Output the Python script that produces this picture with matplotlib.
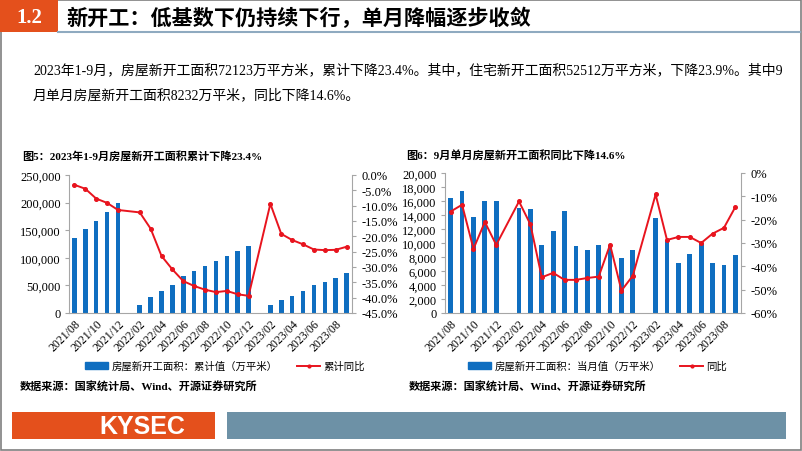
import numpy as np
import matplotlib
matplotlib.use("Agg")
import matplotlib.pyplot as plt
from matplotlib.patches import Rectangle
from matplotlib.lines import Line2D
from matplotlib.patches import Patch

# --- data -------------------------------------------------------------------

months = [
    "2021/08", "2021/09", "2021/10", "2021/11", "2021/12", "2022/01",
    "2022/02", "2022/03", "2022/04", "2022/05", "2022/06", "2022/07",
    "2022/08", "2022/09", "2022/10", "2022/11", "2022/12", "2023/01",
    "2023/02", "2023/03", "2023/04", "2023/05", "2023/06", "2023/07",
    "2023/08", "2023/09",
]
nan = np.nan

# fig 5: cumulative new starts (10k m2) and cumulative yoy (%)
cum_area = [135502, 152944, 166736, 182820, 198895, nan,
            15250, 29638, 39739, 51628, 66423, 76091,
            85062, 94767, 103722, 111632, 120587, nan,
            13658, 24121, 31614, 39321, 49880, 56969,
            63891, 72123]
cum_yoy = [-3.2, -4.5, -7.7, -9.1, -11.4, nan,
           -12.2, -17.5, -26.4, -30.8, -34.6, -36.2,
           -37.4, -38.2, -37.8, -38.9, -39.4, nan,
           -9.4, -19.2, -21.2, -22.6, -24.3, -24.5,
           -24.4, -23.4]

# fig 6: monthly new starts (10k m2) and monthly yoy (%)
mon_area = [16500, 17400, 13750, 16050, 16050, nan,
            14950, 14800, 9750, 11700, 14600, 9550,
            9050, 9650, 9700, 7900, 8950, nan,
            13600, 10450, 7100, 8500, 9950, 7100,
            6900, 8232]
mon_yoy = [-16.5, -13.6, -32.5, -21.0, -30.8, nan,
           -12.2, -22.0, -44.7, -42.8, -45.8, -45.8,
           -45.0, -44.4, -30.7, -50.4, -44.0, nan,
           -9.2, -28.7, -27.4, -27.4, -30.0, -26.0,
           -23.5, -14.6]

# --- style ------------------------------------------------------------------

W, H = 802, 452
SERIF = ["Liberation Serif", "Noto Sans CJK SC"]
CJK = ["Noto Sans CJK SC", "Liberation Serif"]
BLUE = "#0F6EC0"
RED = "#E8141E"
ORANGE = "#E4501C"
GRAYBLUE = "#6D91A6"
SPINE = "#A6A6A6"

plt.rcParams["font.family"] = SERIF


def fx(x):
    return x / W


def fy(y):
    return 1 - y / H


def rect(fig, x0, y0, x1, y1, **kw):
    fig.add_artist(Rectangle((fx(x0), fy(y1)), fx(x1) - fx(x0), fy(y0) - fy(y1),
                             transform=fig.transFigure, **kw))


def draw_panel(fig, box, bars, line, ylim, yticks, ytick_fmt, rlim, rticks, rtick_fmt,
               bar_label, line_label, legend_x):
    left, top, right, bottom = box
    ax = fig.add_axes([fx(left), fy(bottom), fx(right) - fx(left), fy(top) - fy(bottom)])
    x = np.arange(len(months))
    b = np.array(bars, dtype=float)
    ok = ~np.isnan(b)
    ax.bar(x[ok], b[ok], width=0.42, color=BLUE, zorder=2)
    ax.set_xlim(-0.5, len(months) - 0.5)
    ax.set_ylim(*ylim)
    ax.set_yticks(yticks)
    ax.set_yticklabels([ytick_fmt(v) for v in yticks], fontsize=9)
    ax.set_xticks(x[::2])
    ax.set_xticklabels(months[::2], rotation=45, ha="right", rotation_mode="anchor",
                       fontsize=8.5)
    ax.tick_params(axis="x", length=0, pad=3)
    ax.tick_params(axis="y", length=3, color=SPINE, pad=3)
    for s in ("top", "right"):
        ax.spines[s].set_visible(False)
    for s in ("left", "bottom"):
        ax.spines[s].set_color(SPINE)

    axr = ax.twinx()
    l = np.array(line, dtype=float)
    ok = ~np.isnan(l)
    axr.plot(x[ok], l[ok], color=RED, lw=1.4, marker="o", ms=2.6, zorder=3)
    axr.set_ylim(*rlim)
    axr.set_yticks(rticks)
    axr.set_yticklabels([rtick_fmt(v) for v in rticks], fontsize=9)
    axr.tick_params(axis="y", length=3, color=SPINE, pad=4)
    for s in ("top", "left", "bottom"):
        axr.spines[s].set_visible(False)
    axr.spines["right"].set_color(SPINE)

    handles = [Patch(facecolor=BLUE, edgecolor=BLUE),
               Line2D([0], [0], color=RED, lw=1.4, marker="o", ms=2.0)]
    fig.legend(handles, [bar_label, line_label], loc="center left",
               bbox_to_anchor=(fx(legend_x), fy(367)), ncol=2, frameon=False,
               prop={"family": CJK, "size": 7.5}, handlelength=2.2,
               handleheight=0.6, columnspacing=1.9, handletextpad=0.3)
    return ax, axr


fig = plt.figure(figsize=(W / 100, H / 100), dpi=100)
fig.patch.set_facecolor("white")

# slide frame and header
rect(fig, 0.5, 0.5, 800.5, 450.5, facecolor="none", edgecolor="#7F7F7F", lw=1.2)
rect(fig, 0, 0, 58, 33, facecolor=ORANGE, edgecolor="none")
fig.add_artist(Line2D([fx(58), fx(800)], [fy(33), fy(33)], transform=fig.transFigure,
                      color="#8FAAC0", lw=1.5))
fig.text(fx(29), fy(18), "1.2", color="white", fontsize=15, fontweight="bold",
         ha="center", va="center", family=SERIF)
fig.text(fx(66), fy(18), "新开工：低基数下仍持续下行，单月降幅逐步收敛", fontsize=15.2,
         fontweight="bold", ha="left", va="center", family=CJK)

fig.text(fx(33), fy(70),
         "2023年1-9月，房屋新开工面积72123万平方米，累计下降23.4%。其中，住宅新开工面积52512万平方米，下降23.9%。其中9",
         fontsize=10, ha="left", va="center", family=SERIF)
fig.text(fx(33), fy(95), "月单月房屋新开工面积8232万平米，同比下降14.6%。",
         fontsize=10, ha="left", va="center", family=SERIF)

# chart titles and sources
fig.text(fx(22), fy(156), "图5：2023年1-9月房屋新开工面积累计下降23.4%", fontsize=8,
         fontweight="bold", ha="left", va="center", family=SERIF)
fig.text(fx(406), fy(156), "图6：9月单月房屋新开工面积同比下降14.6%", fontsize=8,
         fontweight="bold", ha="left", va="center", family=SERIF)
fig.text(fx(20), fy(387), "数据来源：国家统计局、Wind、开源证券研究所", fontsize=8,
         fontweight="bold", ha="left", va="center", family=SERIF)
fig.text(fx(409), fy(387), "数据来源：国家统计局、Wind、开源证券研究所", fontsize=8,
         fontweight="bold", ha="left", va="center", family=SERIF)

draw_panel(fig, (69, 176, 352, 314), cum_area, cum_yoy,
           (0, 250000), np.arange(0, 250001, 50000), lambda v: f"{v:,.0f}",
           (-45, 0), np.arange(-45, 0.1, 5), lambda v: f"{v:.1f}%",
           "房屋新开工面积：累计值（万平米）", "累计同比", 76)
draw_panel(fig, (445, 174, 741, 314), mon_area, mon_yoy,
           (0, 20000), np.arange(0, 20001, 2000), lambda v: f"{v:,.0f}",
           (-60, 0), np.arange(-60, 0.1, 10), lambda v: f"{v:.0f}%",
           "房屋新开工面积：当月值（万平米）", "同比", 459)

# footer
rect(fig, 12, 413, 215, 440, facecolor=ORANGE, edgecolor="none")
rect(fig, 227, 413, 786, 440, facecolor=GRAYBLUE, edgecolor="none")
fig.text(fx(142), fy(427), "KYSEC", color="white", fontsize=18, fontweight="bold",
         ha="center", va="center", family=["Liberation Sans", "DejaVu Sans"])

fig.savefig("out.png", dpi=100)
